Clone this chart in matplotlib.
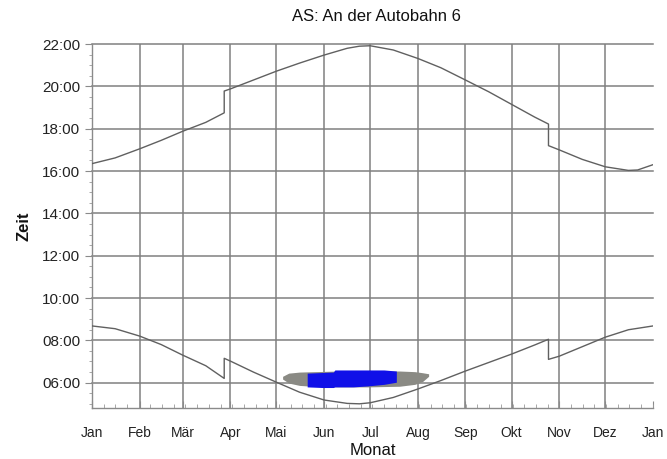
import matplotlib
matplotlib.use("Agg")
import matplotlib.pyplot as plt
from matplotlib.ticker import MultipleLocator, FixedLocator, FuncFormatter

plt.rcParams['font.family'] = ['Liberation Sans', 'DejaVu Sans']

# --- data (day of year, hours) ---
month_starts = [0, 31, 59, 90, 120, 151, 181, 212, 243, 273, 304, 334, 365]
month_labels = ["Jan", "Feb", "Mär", "Apr", "Mai", "Jun", "Jul", "Aug", "Sep", "Okt", "Nov", "Dez", "Jan"]

sunset_day = [0, 15, 31, 45, 59, 74, 86, 86, 90, 105, 120, 135, 151, 166, 174, 181, 196, 212, 227, 243,
              258, 273, 288, 297, 297, 304, 319, 334, 349, 355, 365]
sunset_hr = [16.35, 16.62, 17.05, 17.45, 17.88, 18.3, 18.75, 19.78, 19.88, 20.3, 20.72, 21.1, 21.48, 21.8,
             21.9, 21.92, 21.72, 21.32, 20.88, 20.3, 19.75, 19.15, 18.55, 18.22, 17.2, 17.0, 16.55, 16.2,
             16.03, 16.05, 16.3]

sunrise_day = [0, 15, 31, 45, 59, 74, 86, 86, 90, 105, 120, 135, 151, 166, 174, 181, 196, 212, 227, 243,
               258, 273, 288, 297, 297, 304, 319, 334, 349, 365]
sunrise_hr = [8.68, 8.55, 8.2, 7.8, 7.3, 6.8, 6.2, 7.15, 7.02, 6.5, 6.02, 5.55, 5.18, 5.02, 5.0, 5.05,
              5.3, 5.7, 6.1, 6.55, 6.95, 7.35, 7.78, 8.05, 7.1, 7.25, 7.7, 8.15, 8.5, 8.68]

shadow_day = [124, 128, 135, 145, 160, 180, 200, 210, 215, 219]
shadow_lo = [6.17, 5.98, 5.87, 5.82, 5.8, 5.8, 5.83, 5.92, 6.05, 6.3]
shadow_hi = [6.3, 6.45, 6.5, 6.52, 6.55, 6.55, 6.55, 6.52, 6.47, 6.42]

blue_day = [140, 150, 157, 158, 170, 180, 190, 198]
blue_lo = [5.8, 5.77, 5.77, 5.8, 5.8, 5.85, 5.92, 6.02]
blue_hi = [6.45, 6.48, 6.5, 6.6, 6.6, 6.6, 6.6, 6.55]

title = "AS: An der Autobahn 6"

# --- plot ---
fig = plt.figure(figsize=(6.67, 4.59), dpi=100)
ax = fig.add_axes([0.138, 0.111, 0.841, 0.793])

grid_c = "#808080"
for d in month_starts[1:-1]:
    ax.axvline(d, color=grid_c, lw=1.1, zorder=1)
for h in range(6, 23, 2):
    ax.axhline(h, color=grid_c, lw=1.1, zorder=1, clip_on=False)

ax.fill_between(shadow_day, shadow_lo, shadow_hi, color="#8a8a84", lw=0, zorder=3)
ax.fill_between(blue_day, blue_lo, blue_hi, color="#1010e8", lw=0, zorder=4)

ax.plot(sunset_day, sunset_hr, color="#606060", lw=1.0, zorder=5)
ax.plot(sunrise_day, sunrise_hr, color="#606060", lw=1.0, zorder=5)

ax.set_xlim(0, 365)
ax.set_ylim(4.8, 22.0)

ax.xaxis.set_major_locator(FixedLocator(month_starts))
ax.set_xticklabels(month_labels)
ax.xaxis.set_minor_locator(MultipleLocator(7.6))
ax.yaxis.set_major_locator(FixedLocator(list(range(6, 23, 2))))
ax.yaxis.set_major_formatter(FuncFormatter(lambda v, p: "%02d:00" % int(round(v))))
ax.yaxis.set_minor_locator(MultipleLocator(0.5))

for s in ["top", "right"]:
    ax.spines[s].set_visible(False)
for s in ["left", "bottom"]:
    ax.spines[s].set_color("#8a8a8a")
    ax.spines[s].set_linewidth(1.0)

ax.tick_params(axis="x", which="major", direction="in", length=5, color="#8a8a8a", labelsize=10, pad=13,
               labelcolor="#222222")
ax.tick_params(axis="x", which="minor", direction="in", length=3, color="#9a9a9a")
ax.tick_params(axis="y", which="major", direction="out", length=5, color="#8a8a8a", labelsize=11,
               labelcolor="#222222")
ax.tick_params(axis="y", which="minor", direction="out", length=2, color="#9a9a9a")

ax.set_xlabel("Monat", fontsize=12, labelpad=2, color="#111111")
ax.set_ylabel("Zeit", fontsize=12, fontweight="bold", labelpad=8, color="#111111")
fig.text(0.565, 0.965, title, ha="center", va="center", fontsize=12, color="#111111")

fig.savefig("out.png", dpi=100, facecolor="white")
